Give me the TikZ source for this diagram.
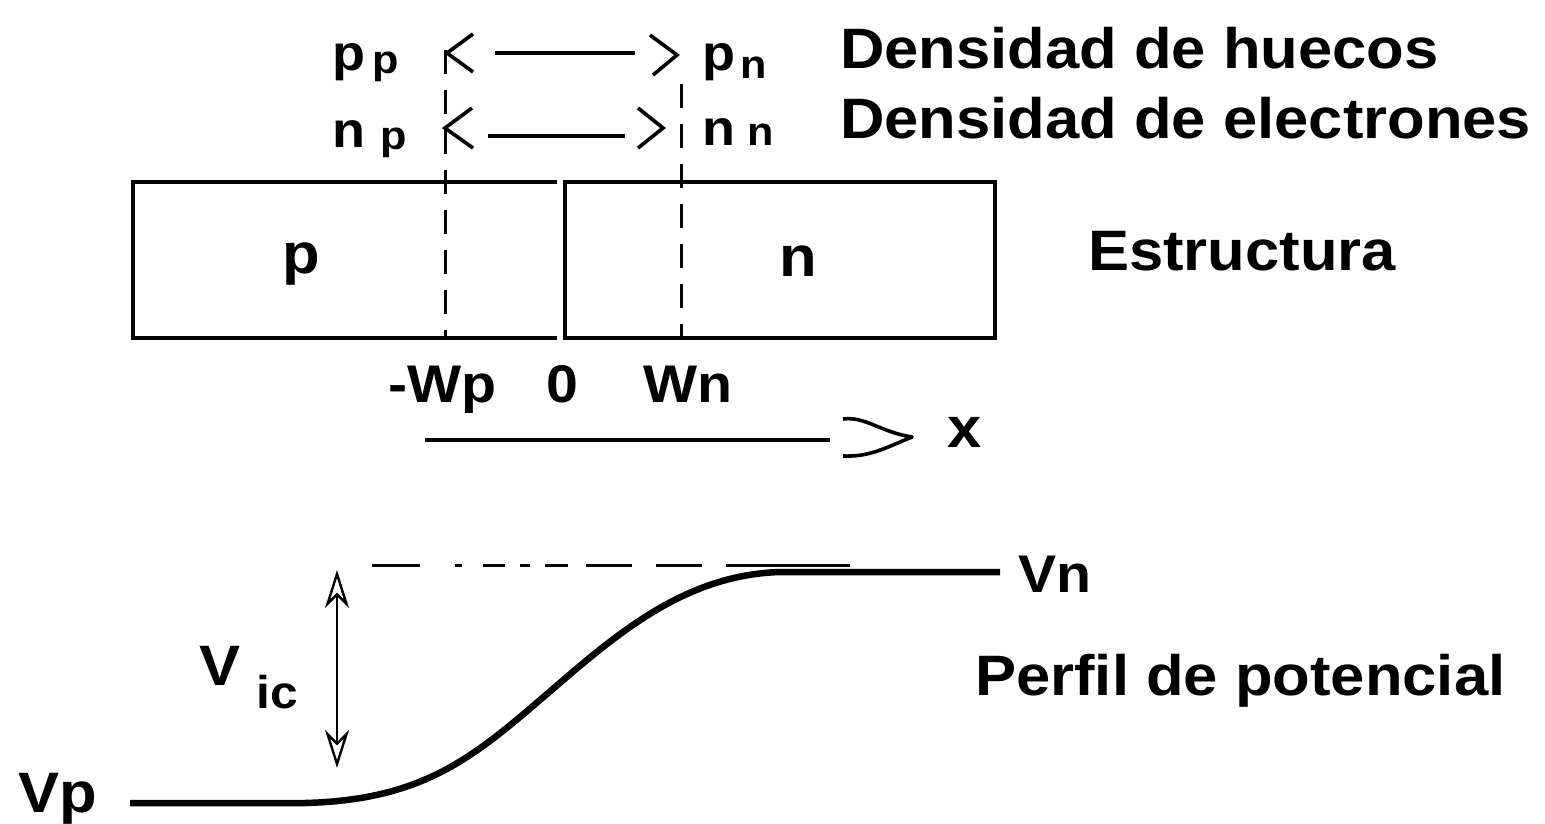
\documentclass[tikz,border=0pt]{standalone}
\usepackage{fontspec}
\setmainfont{Liberation Sans}[FakeStretch=1.08]
\usetikzlibrary{arrows.meta}
\begin{document}
\begin{tikzpicture}[x=1pt,y=-1pt,
  lbl/.style={inner sep=0pt, anchor=base west, font=\fontsize{57}{60}\selectfont\bfseries},
  axl/.style={inner sep=0pt, anchor=base west, font=\fontsize{53}{56}\selectfont\bfseries},
  subl/.style={inner sep=0pt, anchor=base west, font=\fontsize{46}{50}\selectfont\bfseries},
  tl/.style={inner sep=0pt, anchor=base west, font=\fontsize{50}{54}\selectfont\bfseries},
  ts/.style={inner sep=0pt, anchor=base west, font=\fontsize{40}{44}\selectfont\bfseries},
  boxline/.style={line width=4.5pt, line join=miter},
  dashv/.style={line width=3pt, dash pattern=on 24pt off 16pt},
  thin/.style={line width=3.2pt},
  chev/.style={line width=3.6pt, line join=miter},
  prof/.style={line width=6.5pt, line cap=butt},
  vicarrow/.style={line width=2pt, {Stealth[open,length=38pt,width=24pt,inset=12pt,line width=2.4pt]}-{Stealth[open,length=38pt,width=24pt,inset=12pt,line width=2.4pt]}}
]
\useasboundingbox (0,0) rectangle (1545,823);

% texts on the right
\node[lbl] (dh) at (840,68) {Densidad de huecos};
\node[lbl] (de) at (840,138) {Densidad de electrones};
\node[lbl] (es) at (1088,270) {Estructura};

% density labels
\node[tl] (pp1) at (332,70) {p};
\node[ts] (pp2) at (372,73) {p};
\node[tl] (pn1) at (702,70) {p};
\node[ts] (pn2) at (740,78) {n};
\node[tl] (np1) at (332,147) {n};
\node[ts] (np2) at (380,149) {p};
\node[tl] (nn1) at (702,145) {n};
\node[ts] (nn2) at (747,145) {n};

% chevron arrows, row 1
\coordinate (a1t) at (473,34);
\coordinate (a1p) at (447,53);
\coordinate (a1b) at (473,72);
\coordinate (l1a) at (495,53);
\coordinate (l1b) at (635,53);
\coordinate (b1t) at (650,35);
\coordinate (b1p) at (677,55);
\coordinate (b1b) at (653,75);
\draw[chev] (a1t) -- (a1p) -- (a1b);
\draw[thin] (l1a) -- (l1b);
\draw[chev] (b1t) -- (b1p) -- (b1b);
% chevron arrows, row 2
\coordinate (a2t) at (472,108);
\coordinate (a2p) at (445,128);
\coordinate (a2b) at (473,148);
\coordinate (l2a) at (488,136);
\coordinate (l2b) at (625,136);
\coordinate (b2t) at (638,108);
\coordinate (b2p) at (663,128);
\coordinate (b2b) at (638,148);
\draw[chev] (a2t) -- (a2p) -- (a2b);
\draw[thin] (l2a) -- (l2b);
\draw[chev] (b2t) -- (b2p) -- (b2b);

% structure
\coordinate (lt) at (557,182);
\coordinate (ltl) at (133,182);
\coordinate (lbl) at (133,338);
\coordinate (lb) at (557,338);
\draw[boxline] (lt) -- (ltl) -- (lbl) -- (lb);
\coordinate (rtl) at (565,182);
\coordinate (rbr) at (995,338);
\draw[boxline] (rtl) rectangle (rbr);
\node[lbl] (pl) at (282,273) {p};
\node[lbl] (nl) at (779,276) {n};

% depletion edges
\coordinate (dl1) at (445,50);
\coordinate (dl2) at (445,338);
\coordinate (dr1) at (681,84);
\coordinate (dr2) at (681,338);
\draw[dashv] (dl1) -- (dl2);
\draw[dashv] (dr1) -- (dr2);

% axis labels
\node[axl] (wp) at (388,402) {-Wp};
\node[axl] (z) at (546,402) {0};
\node[axl] (wn) at (643,402) {Wn};

% x axis
\coordinate (xa) at (425,440);
\coordinate (xb) at (830,440);
\draw[thin, line width=3.8pt] (xa) -- (xb);
\coordinate (xh1) at (843,419);
\coordinate (xh2) at (912,437);
\coordinate (xh3) at (843,456);
\draw[chev, line join=round] (xh1) .. controls (865,416) and (880,432) .. (xh2) .. controls (885,448) and (870,457) .. (xh3);
\node[lbl] (xl) at (947,447) {x};

% potential profile
\coordinate (dd1) at (372,565);
\coordinate (dd2) at (850,565);
\draw[line width=3pt, dash pattern=on 48pt off 35pt on 7pt off 21pt on 22pt off 15pt on 10pt off 15pt on 23pt off 18pt on 46pt off 24pt on 46pt off 24pt on 124pt off 10pt] (dd1) -- (dd2);

\coordinate (vp0) at (130,803);
\coordinate (vp1) at (305,803);
\coordinate (mid) at (540,700);
\coordinate (vn0) at (780,572);
\coordinate (vn1) at (1000,572);
\draw[prof] (vp0) -- (vp1) .. controls (420,800) and (470,760) .. (mid)
   .. controls (610,640) and (680,575) .. (vn0) -- (vn1);

\node[axl] (vn) at (1018,592) {Vn};
\node[lbl] (pf) at (975,695) {Perfil de potencial};
\node[lbl] (vp) at (18,812) {Vp};

% built-in potential
\coordinate (vt) at (337,570);
\coordinate (vb) at (337,768);
\draw[vicarrow] (vt) -- (vb);
\node[lbl] (v) at (199,685) {V};
\node[subl] (ic) at (256,708) {ic};
\end{tikzpicture}
\end{document}
